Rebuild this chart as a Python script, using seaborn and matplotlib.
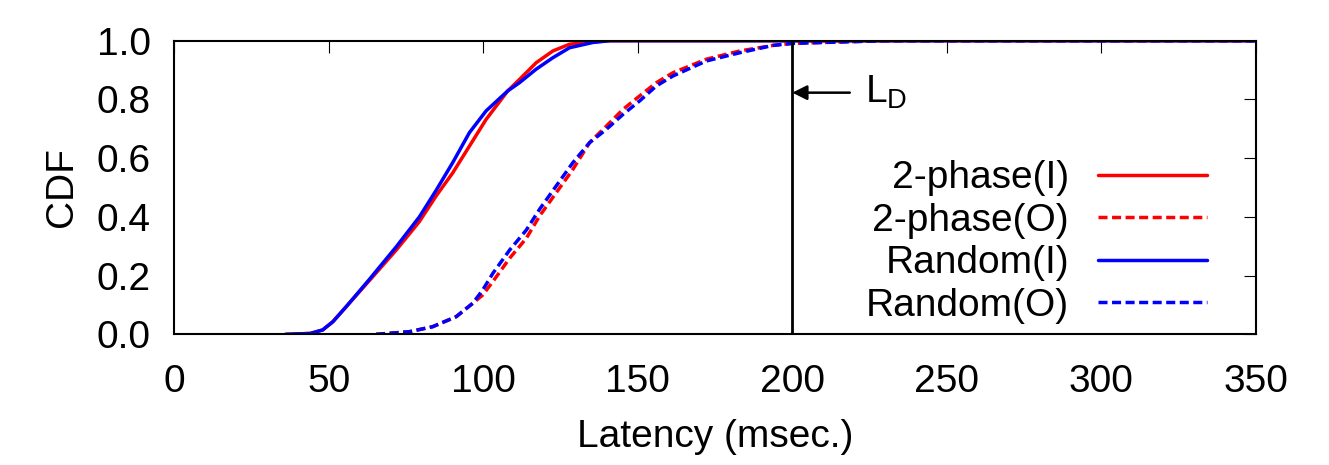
import matplotlib
matplotlib.use('Agg')
import pandas as pd
import numpy as np
import matplotlib.pyplot as plt
import seaborn as sns

# CDF values
x_in = [36, 44, 48, 51.3, 55.6, 63.1, 71.8, 79.3, 84.7, 90.1, 95.5, 100.9,
        107.9, 111.7, 117.1, 122.5, 127.9, 135.5, 141, 350]
cdf_2phase_in = [0, 0.003, 0.015, 0.043, 0.094, 0.183, 0.287, 0.384, 0.471, 0.55,
                 0.641, 0.732, 0.829, 0.868, 0.925, 0.965, 0.988, 0.996, 1.0, 1.0]
cdf_random_in = [0, 0.003, 0.015, 0.043, 0.094, 0.187, 0.298, 0.40, 0.49, 0.585,
                 0.687, 0.761, 0.829, 0.857, 0.903, 0.942, 0.976, 0.994, 1.0, 1.0]

x_out = [65.3, 76.1, 83.6, 91.2, 96.6, 99.8, 103.1, 108.5, 113.9, 118.2, 129,
         134.4, 139.8, 145.2, 150.6, 156, 161.4, 172.2, 183, 193.8, 200.2, 230, 350]
cdf_2phase_out = [0, 0.009, 0.026, 0.06, 0.106, 0.134, 0.180, 0.259, 0.327, 0.403,
                  0.562, 0.653, 0.709, 0.766, 0.812, 0.857, 0.891, 0.937, 0.965,
                  0.984, 0.991, 1.0, 1.0]
cdf_random_out = [0, 0.009, 0.026, 0.06, 0.106, 0.151, 0.208, 0.287, 0.355, 0.426,
                  0.585, 0.653, 0.698, 0.749, 0.795, 0.846, 0.880, 0.931, 0.959,
                  0.984, 0.991, 1.0, 1.0]

labels = ['2-phase(I)', '2-phase(O)', 'Random(I)', 'Random(O)']
deadline = 200  # L_D

sns.set_style('white')
plt.rcParams['font.family'] = ['Liberation Sans', 'DejaVu Sans']
plt.rcParams['text.color'] = 'black'
plt.rcParams['axes.labelcolor'] = 'black'
FS = 28

fig, ax = plt.subplots(figsize=(13.29, 4.65), dpi=100)
fig.subplots_adjust(left=0.1312, right=0.9449, top=0.9125, bottom=0.281)

series = [
    (x_in, cdf_2phase_in, labels[0], 'red', '-'),
    (x_out, cdf_2phase_out, labels[1], 'red', (0, (2.6, 1.3))),
    (x_in, cdf_random_in, labels[2], 'blue', '-'),
    (x_out, cdf_random_out, labels[3], 'blue', (0, (2.6, 1.3))),
]
for xs, ys, lab, col, ls in series:
    df = pd.DataFrame({'latency': xs, 'cdf': ys})
    sns.lineplot(data=df, x='latency', y='cdf', ax=ax, color=col, linestyle=ls,
                 lw=2.5, label=lab, sort=False, estimator=None)

ax.axvline(deadline, color='black', lw=2)
ax.annotate('', xy=(deadline, 0.823), xytext=(218.6, 0.823),
            arrowprops=dict(arrowstyle='-|>', color='black', lw=1.8, mutation_scale=22,
                            shrinkA=0, shrinkB=0))
ax.text(223.4, 0.823, r'$\mathregular{L_D}$', fontsize=FS, va='center', ha='left')

ax.set_xlim(0, 350)
ax.set_ylim(0, 1)
ax.set_xticks(np.arange(0, 351, 50))
ax.set_yticks(np.arange(0, 1.01, 0.2))
ax.set_yticklabels([f'{v:.1f}' for v in np.arange(0, 1.01, 0.2)])
ax.tick_params(direction='in', top=True, right=True, length=8.4, width=0.8,
               labelsize=FS, colors='black')
ax.tick_params(axis='y', pad=17)
ax.tick_params(axis='x', pad=21)
for s in ax.spines.values():
    s.set_linewidth(1.5)
    s.set_color('black')

ax.set_xlabel('Latency (msec.)', fontsize=FS, labelpad=14)
ax.set_ylabel('CDF', fontsize=FS, labelpad=12)

ax.legend(loc='center right', bbox_to_anchor=(0.955, 0.314), frameon=False,
          markerfirst=False, fontsize=FS, handlelength=2.8, handletextpad=0.75,
          labelspacing=0.17, borderaxespad=0, borderpad=0)

fig.savefig('out.png', dpi=100)
